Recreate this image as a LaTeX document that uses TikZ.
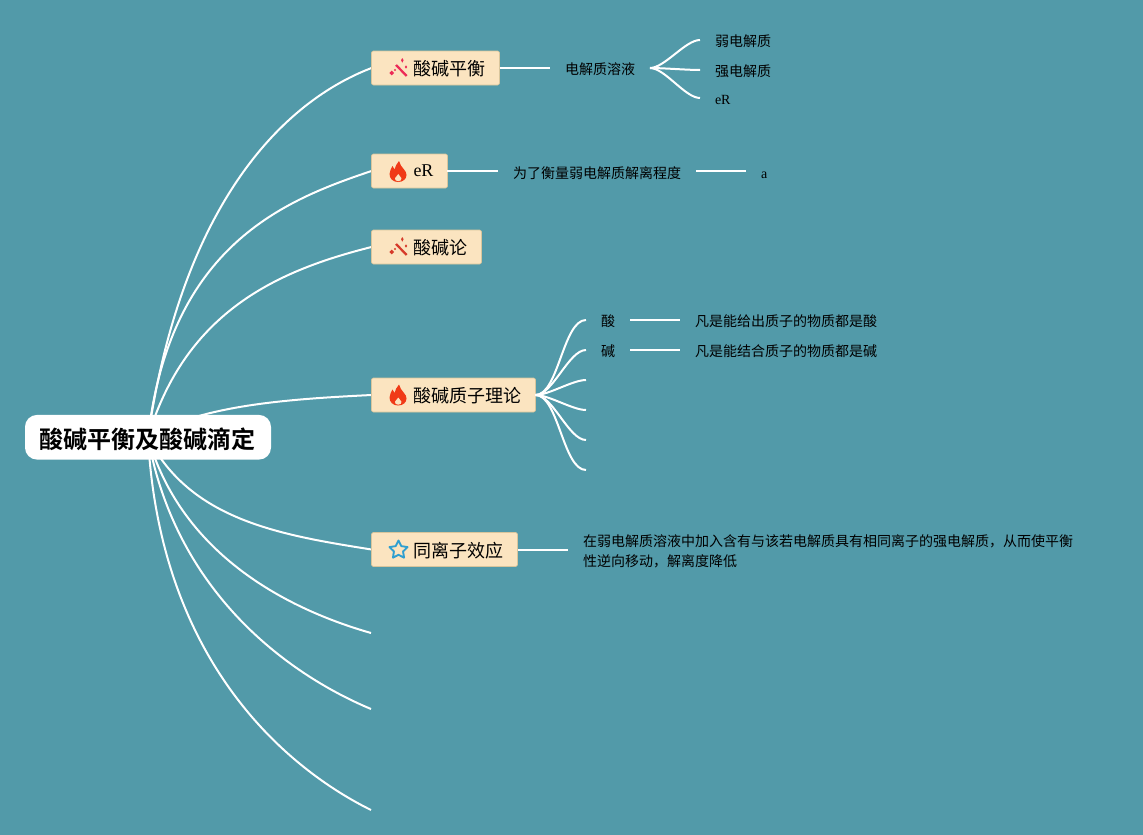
\documentclass[tikz,border=0pt]{standalone}
\usepackage{fontspec}
\setmainfont{Liberation Serif}
\newfontfamily\cjk[BoldFont={Noto Sans CJK SC Bold}]{Noto Sans CJK SC}
\usepackage{xcolor}
\definecolor{canvasteal}{HTML}{529AA9}
\definecolor{boxcream}{HTML}{FBE4C0}
\definecolor{boxedge}{HTML}{D8C59C}
\definecolor{wandpink}{HTML}{EC2B57}
\definecolor{wandred}{HTML}{D63A2A}
\definecolor{flamered}{HTML}{F03A17}
\definecolor{starblue}{HTML}{2F9FD0}
\usetikzlibrary{backgrounds}
\tikzset{
    pics/wand/.style={code={
        \draw[#1, line width=1.7pt] (-3,-3) -- (7.7,8);
        \fill[#1] (3.3,-10) -- (4.6,-7.7) -- (3.3,-5.4) -- (2,-7.7) -- cycle;
        \fill[#1] (-7.3,2.6) -- (-5,5) -- (-7.3,7.4) -- (-9.6,5) -- cycle;
        \fill[#1] (7,-2.6) -- (8.2,-1) -- (7,0.6) -- (5.8,-1) -- cycle;
        \fill[#1] (-4,2) circle (1.2);
    }},
    pics/flame/.style={code={
        \fill[#1] (0,10.5) .. controls (-5,10.5) and (-8.5,7) .. (-8.5,2.5)
            .. controls (-8.5,-1) and (-6.5,-3) .. (-5.5,-5.5)
            .. controls (-4.7,-4.5) and (-4,-3.2) .. (-3.5,-2)
            .. controls (-3,-5) and (-1,-8) .. (1,-10.5)
            .. controls (1.5,-7) and (4,-5) .. (6,-2)
            .. controls (7.5,0) and (8.5,1) .. (8.5,3.5)
            .. controls (8.5,7.5) and (5,10.5) .. (0,10.5) -- cycle;
        \fill[boxcream] (0.3,9.7) .. controls (-2,9.7) and (-3.4,8.3) .. (-3,6.7)
            .. controls (-2.6,5.3) and (-0.5,4.3) .. (0.3,2.5)
            .. controls (1,4.3) and (3,5.3) .. (3.4,6.7)
            .. controls (3.8,8.3) and (2.5,9.7) .. (0.3,9.7) -- cycle;
    }},
    pics/hollowstar/.style={code={
        \draw[#1, line width=1.4pt, line join=round] (270:9.5) -- (306:4.8) -- (342:9.5) -- (18:4.8)
            -- (54:9.5) -- (90:4.8) -- (126:9.5) -- (162:4.8) -- (198:9.5) -- (234:4.8) -- cycle;
    }}
}

\begin{document}
\begin{tikzpicture}[
    x=0.75pt, y=-0.75pt,
    rootbox/.style={rectangle, rounded corners=9pt, fill=white, minimum width=184.5pt, minimum height=33.5pt, inner sep=0pt, text height=19pt, text depth=2.3pt, font=\fontsize{18}{22}\selectfont\cjk\bfseries},
    branch/.style={rectangle, draw=boxedge, line width=0.5pt, rounded corners=1.5pt, fill=boxcream, anchor=west, minimum height=25.5pt, inner ysep=0pt, inner xsep=10.5pt, outer sep=0pt, text height=13.76pt, text depth=2pt, font=\fontsize{13.5}{16}\selectfont\cjk},
    noteleaf/.style={anchor=west, inner xsep=11.25pt, inner ysep=1pt, outer sep=0pt, font=\fontsize{10.5}{15}\selectfont\cjk, align=left},
    leaf/.style={noteleaf, text height=10.6pt, text depth=1.1pt},
    link/.style={white, line width=1.5pt},
    fork/.style={white, line width=1.5pt, out=0, in=180, looseness=0.65}
]
\useasboundingbox (0,0) rectangle (1143,835);

\node[rootbox] (root) at (148,437.25) {酸碱平衡及酸碱滴定};

\node[branch] (balance) at (371.5,68) {\hspace*{21pt}酸碱平衡};
\node[branch] (er) at (371.5,171) {\hspace*{21pt}\raisebox{2.1pt}{\rmfamily eR}};
\node[branch] (theory) at (371.5,247) {\hspace*{21pt}酸碱论};
\node[branch] (proton) at (371.5,395) {\hspace*{21pt}酸碱质子理论};
\node[branch] (ion) at (371.5,549.5) {\hspace*{21pt}同离子效应};

\pic at (399,68) {wand=wandpink};
\pic at (398,171.5) {flame=flamered};
\pic at (399,247) {wand=wandred};
\pic at (398,395) {flame=flamered};
\pic at (398.5,550) {hollowstar=starblue};

\coordinate (extraa) at (371,633);
\coordinate (extrab) at (371,709);
\coordinate (extrac) at (371,810);

% first row
\node[leaf] (solution) at (550,68) {电解质溶液};
\node[leaf] (weak) at (700,40) {弱电解质};
\node[leaf] (strong) at (700,70) {强电解质};
\node[leaf] (erleaf) at (700,98) {\rmfamily eR};

% second row
\node[leaf] (degree) at (498,172) {为了衡量弱电解质解离程度};
\node[leaf] (aleaf) at (746,172) {\rmfamily a};

% proton theory
\node[leaf] (acid) at (586,320) {酸};
\node[leaf] (base) at (586,350) {碱};
\node[leaf] (aciddef) at (680,320) {凡是能给出质子的物质都是酸};
\node[leaf] (basedef) at (680,350) {凡是能结合质子的物质都是碱};
\coordinate (blanka) at (586,380);
\coordinate (blankb) at (586,410);
\coordinate (blankc) at (586,440);
\coordinate (blankd) at (586,470);

% common ion
\node[noteleaf] (iondef) at (568,551) {在弱电解质溶液中加入含有与该若电解质具有相同离子的强电解质，从而使平衡\\性逆向移动，解离度降低};

\begin{scope}[on background layer]
\fill[canvasteal] (0,0) rectangle (1143,835);
\draw[link] (root.center) .. controls (180,215) and (275,105) .. (balance.west);
\draw[link] (root.center) .. controls (170,245) and (285,200) .. (er.west);
\draw[link] (root.center) .. controls (186,310) and (280,270) .. (theory.west);
\draw[link] (root.center) .. controls (200,405) and (290,399) .. (proton.west);
\draw[link] (root.center) .. controls (190,520) and (280,535) .. (ion.west);
\draw[link] (root.center) .. controls (180,550) and (280,607) .. (extraa);
\draw[link] (root.center) .. controls (175,590) and (285,673) .. (extrab);
\draw[link] (root.center) .. controls (160,665) and (290,770) .. (extrac);
\end{scope}

\draw[link] (balance) -- (solution);
\draw[fork] (solution.east) to (weak.west);
\draw[fork] (solution.east) to (strong.west);
\draw[fork] (solution.east) to (erleaf.west);
\draw[link] (er) -- (er -| degree.west);
\draw[link] (degree.east |- er) -- (aleaf.west |- er);
\draw[link] (ion) -- (ion -| iondef.west);
\draw[fork] (proton.east) to (acid.west);
\draw[fork] (proton.east) to (base.west);
\draw[fork] (proton.east) to (blanka);
\draw[fork] (proton.east) to (blankb);
\draw[fork] (proton.east) to (blankc);
\draw[fork] (proton.east) to (blankd);
\draw[link] (acid) -- (aciddef);
\draw[link] (base) -- (basedef);
\end{tikzpicture}
\end{document}
